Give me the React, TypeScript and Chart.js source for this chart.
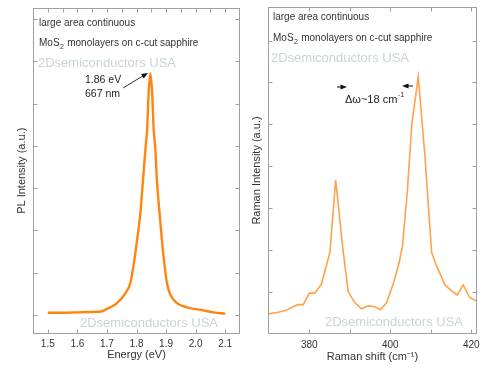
import React, { useEffect, useRef } from 'react';
import { Chart, registerables } from 'chart.js';

Chart.register(...registerables);

const FONT = '"Liberation Sans", Arial, Helvetica, sans-serif';

// ---- PL spectrum (left panel) ----
const plEnergy = [1.5, 1.55, 1.6, 1.65, 1.68, 1.7, 1.734, 1.762, 1.779, 1.791, 1.802, 1.813, 1.822, 1.83, 1.836, 1.841, 1.847, 1.853, 1.858, 1.864, 1.869, 1.878, 1.886, 1.894, 1.903, 1.915, 1.937, 1.971, 2.016, 2.061, 2.1];
const plIntensity = [0.05, 0.05, 0.06, 0.07, 0.08, 0.14, 0.28, 0.51, 0.75, 1.22, 1.77, 2.4, 3.19, 3.9, 4.4, 5.24, 5.71, 5.24, 4.4, 3.9, 3.19, 2.4, 1.77, 1.22, 0.75, 0.47, 0.28, 0.18, 0.12, 0.06, 0.03];
const plXTicks = [1.5, 1.6, 1.7, 1.8, 1.9, 2.0, 2.1];

// ---- Raman spectrum (right panel) ----
const ramanShift = [369.8, 372.3, 374.4, 376.0, 377.2, 378.5, 380.0, 381.4, 383.0, 383.8, 385.1, 386.5, 387.1, 388.3, 389.6, 391.2, 392.9, 394.5, 396.2, 397.6, 399.1, 400.7, 402.2, 403.0, 404.2, 405.3, 406.0, 406.9, 408.5, 410.2, 411.4, 413.5, 415.1, 416.5, 418.0, 419.6, 421.4];
const ramanIntensity = [0.48, 0.52, 0.57, 0.65, 0.7, 0.7, 0.97, 0.98, 1.19, 1.48, 1.96, 3.67, 3.14, 2.02, 1.01, 0.75, 0.6, 0.67, 0.65, 0.58, 0.75, 1.19, 1.71, 2.1, 3.4, 5.0, 5.5, 6.13, 4.3, 1.95, 1.63, 1.17, 1.03, 0.93, 1.17, 0.87, 0.78];
const ramanXTicks = [380, 400, 420];

// ---- axis/tick labels & annotation texts ----
const plXTitle = 'Energy (eV)';
const plYTitle = 'PL Intensity (a.u.)';
const ramanXTitle = 'Raman shift (cm\u207B\u00B9)';
const ramanYTitle = 'Raman Intensity (a.u.)';
const line1 = 'large area continuous';
const watermark = '2Dsemiconductors USA';
const peakLabel = ['1.86 eV', '667 nm'];
const deltaLabel = '\u0394\u03C9~18 cm';

const TEXT = '#333333';
const WM = '#c9d3d7';
const FRAME = '#9f9f9f';

function drawMoS2(ctx: CanvasRenderingContext2D, x: number, y: number) {
  ctx.font = `10px ${FONT}`;
  ctx.fillStyle = TEXT;
  ctx.textBaseline = 'middle';
  ctx.textAlign = 'left';
  ctx.fillText('MoS', x, y);
  const w = ctx.measureText('MoS').width;
  ctx.font = `7px ${FONT}`;
  ctx.fillText('2', x + w + 0.5, y + 4);
  const w2 = ctx.measureText('2').width;
  ctx.font = `10px ${FONT}`;
  ctx.fillText(' monolayers on c-cut sapphire', x + w + w2 + 1, y);
}

function arrowHead(ctx: CanvasRenderingContext2D, x0: number, y0: number, x1: number, y1: number, size: number) {
  const a = Math.atan2(y1 - y0, x1 - x0);
  ctx.beginPath();
  ctx.moveTo(x1, y1);
  ctx.lineTo(x1 - size * Math.cos(a - 0.38), y1 - size * Math.sin(a - 0.38));
  ctx.lineTo(x1 - size * Math.cos(a + 0.38), y1 - size * Math.sin(a + 0.38));
  ctx.closePath();
  ctx.fill();
}

function makeFramePlugin(xMajor: number, xMinor: number, yStep: number, yTickMin: number, yTickMax: number, minorTop: boolean) {
  return {
    id: 'frameTicks',
    afterDatasetsDraw(chart: any) {
      const { ctx, chartArea: a, scales } = chart;
      const xs = scales.x;
      const ys = scales.y;
      ctx.save();
      ctx.strokeStyle = FRAME;
      ctx.lineWidth = 1;
      const L = Math.round(a.left) + 0.5;
      const R = Math.round(a.right) - 0.5;
      const T = Math.round(a.top) + 0.5;
      const B = Math.round(a.bottom) - 0.5;
      ctx.strokeRect(L, T, R - L, B - T);
      ctx.beginPath();
      const eps = 1e-9;
      const n0 = Math.ceil((xs.min - eps) / xMinor);
      const n1 = Math.floor((xs.max + eps) / xMinor);
      for (let n = n0; n <= n1; n++) {
        const v = n * xMinor;
        const px = Math.round(xs.getPixelForValue(v)) + 0.5;
        if (px <= L + 1 || px >= R - 1) continue;
        const isMajor = Math.abs(v / xMajor - Math.round(v / xMajor)) < 1e-6;
        const len = 4;
        if (isMajor || !minorTop) {
          ctx.moveTo(px, B);
          ctx.lineTo(px, B - len);
        }
        ctx.moveTo(px, T);
        ctx.lineTo(px, T + len);
      }
      for (let v = yTickMin; v <= yTickMax + eps; v += yStep) {
        const py = Math.round(ys.getPixelForValue(v)) + 0.5;
        if (py <= T + 1 || py >= B - 1) continue;
        ctx.moveTo(L, py);
        ctx.lineTo(L + 4, py);
        ctx.moveTo(R, py);
        ctx.lineTo(R - 4, py);
      }
      ctx.stroke();
      ctx.restore();
    },
  };
}

const plAnnot = {
  id: 'plAnnot',
  beforeDatasetsDraw(chart: any) {
    const { ctx, chartArea: a } = chart;
    ctx.save();
    ctx.font = `13px ${FONT}`;
    ctx.fillStyle = WM;
    ctx.textBaseline = 'middle';
    ctx.textAlign = 'left';
    ctx.fillText(watermark, a.left + 5, 63);
    ctx.fillText(watermark, a.left + 47, 323);
    ctx.restore();
  },
  afterDatasetsDraw(chart: any) {
    const { ctx, chartArea: a } = chart;
    ctx.save();
    ctx.font = `10px ${FONT}`;
    ctx.fillStyle = TEXT;
    ctx.textBaseline = 'middle';
    ctx.textAlign = 'left';
    ctx.fillText(line1, a.left + 6, 23);
    drawMoS2(ctx, a.left + 6, 43);
    ctx.font = `10.5px ${FONT}`;
    ctx.fillStyle = '#222';
    ctx.fillText(peakLabel[0], 85, 80);
    ctx.fillText(peakLabel[1], 85, 94);
    ctx.strokeStyle = '#333';
    ctx.lineWidth = 1;
    ctx.beginPath();
    ctx.moveTo(123, 88);
    ctx.lineTo(146, 74);
    ctx.stroke();
    ctx.fillStyle = '#111';
    arrowHead(ctx, 123, 88, 148, 73, 7);
    ctx.restore();
  },
};

const ramanAnnot = {
  id: 'ramanAnnot',
  beforeDatasetsDraw(chart: any) {
    const { ctx, chartArea: a } = chart;
    ctx.save();
    ctx.font = `13px ${FONT}`;
    ctx.fillStyle = WM;
    ctx.textBaseline = 'middle';
    ctx.textAlign = 'left';
    ctx.fillText(watermark, a.left + 3, 58);
    ctx.fillText(watermark, a.left + 57, 322);
    ctx.restore();
  },
  afterDatasetsDraw(chart: any) {
    const { ctx, chartArea: a } = chart;
    ctx.save();
    ctx.font = `10px ${FONT}`;
    ctx.fillStyle = TEXT;
    ctx.textBaseline = 'middle';
    ctx.textAlign = 'left';
    ctx.fillText(line1, a.left + 5, 17);
    drawMoS2(ctx, a.left + 5, 38);
    ctx.font = `11px ${FONT}`;
    ctx.fillStyle = '#222';
    ctx.fillText(deltaLabel, 95, 100);
    const w = ctx.measureText(deltaLabel).width;
    ctx.font = `7px ${FONT}`;
    ctx.fillText('-1', 95 + w + 0.5, 95);
    // arrows
    ctx.strokeStyle = '#111';
    ctx.fillStyle = '#111';
    ctx.lineWidth = 1;
    ctx.beginPath();
    ctx.moveTo(87, 87);
    ctx.lineTo(93, 87);
    ctx.moveTo(157, 86);
    ctx.lineTo(163, 86);
    ctx.stroke();
    arrowHead(ctx, 87, 87, 97, 87, 7);
    arrowHead(ctx, 163, 86, 152, 86, 7);
    ctx.restore();
  },
};

function Panel(props: { left: number; width: number; kind: 'pl' | 'raman' }) {
  const ref = useRef<HTMLCanvasElement | null>(null);
  useEffect(() => {
    if (!ref.current) return;
    const isPL = props.kind === 'pl';
    const xs = isPL ? plEnergy : ramanShift;
    const ys = isPL ? plIntensity : ramanIntensity;
    const tickVals = isPL ? plXTicks : ramanXTicks;
    const data = xs.map((x, i) => ({ x, y: ys[i] }));
    const chart = new Chart(ref.current, {
      type: 'line',
      data: {
        datasets: [
          {
            data,
            borderColor: isPL ? '#ff8410' : '#ffa24a',
            borderWidth: isPL ? 2.4 : 1.6,
            pointRadius: 0,
            fill: false,
            tension: 0,
            cubicInterpolationMode: isPL ? 'monotone' : 'default',
          } as any,
        ],
      },
      options: {
        responsive: false,
        animation: false,
        events: [],
        layout: {
          padding: isPL
            ? { left: 0, top: 8, right: 10, bottom: 0 }
            : { left: 0, top: 7, right: 20, bottom: 0 },
        },
        plugins: { legend: { display: false }, tooltip: { enabled: false } },
        scales: {
          x: {
            type: 'linear',
            min: isPL ? 1.45 : 369.8,
            max: isPL ? 2.15 : 421.4,
            afterBuildTicks: (s: any) => {
              s.ticks = tickVals.map((v) => ({ value: v }));
            },
            afterFit: (s: any) => {
              s.height = isPL ? 40.5 : 40;
            },
            grid: { display: false, drawTicks: false },
            border: { display: false },
            ticks: {
              padding: 5,
              color: '#333',
              font: { family: FONT, size: 10 },
              maxRotation: 0,
              autoSkip: false,
              callback: (v: any) => (isPL ? Number(v).toFixed(1) : String(Math.round(Number(v)))),
            },
            title: {
              display: true,
              text: isPL ? plXTitle : ramanXTitle,
              color: '#333',
              font: { family: FONT, size: 11 },
              padding: { top: 0, bottom: isPL ? 12 : 10 },
            },
          },
          y: {
            type: 'linear',
            min: isPL ? -0.44 : 0,
            max: isPL ? 7.26 : 7.8,
            afterFit: (s: any) => {
              s.width = isPL ? 33 : 18;
            },
            grid: { display: false, drawTicks: false },
            border: { display: false },
            ticks: { display: false },
            title: {
              display: true,
              text: isPL ? plYTitle : ramanYTitle,
              color: '#333',
              font: { family: FONT, size: 11 },
              padding: { top: isPL ? 15.4 : 0.6, bottom: 0 },
            },
          },
        },
      } as any,
      plugins: [
        makeFramePlugin(isPL ? 0.1 : 10, isPL ? 0.05 : 10, 1, 0, 7, isPL),
        isPL ? plAnnot : ramanAnnot,
      ] as any,
    });
    return () => chart.destroy();
  }, [props.kind]);
  return (
    <canvas
      ref={ref}
      width={props.width}
      height={374}
      style={{ position: 'absolute', left: props.left, top: 0, width: props.width, height: 374 }}
    />
  );
}

export default function App() {
  return (
    <div style={{ position: 'absolute', left: 0, top: 0, width: 497, height: 374, background: '#ffffff', overflow: 'hidden' }}>
      <Panel left={0} width={250} kind="pl" />
      <Panel left={250} width={247} kind="raman" />
    </div>
  );
}
